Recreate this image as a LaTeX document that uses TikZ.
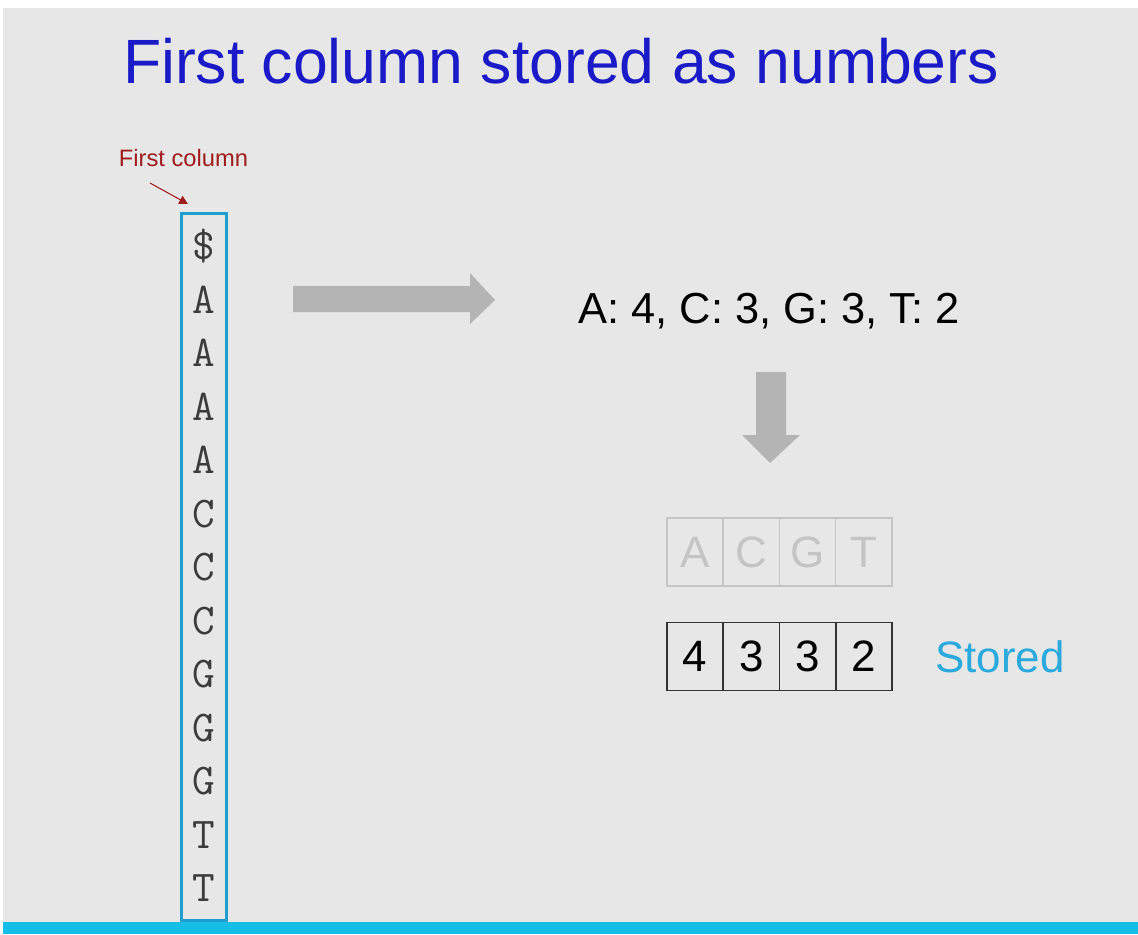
\documentclass[tikz,border=0pt]{standalone}
\usepackage{fontspec}
\setmainfont{Liberation Sans}
\usetikzlibrary{arrows.meta}

\definecolor{slidebg}{HTML}{E7E7E7}
\definecolor{titleblue}{HTML}{1A1AC8}
\definecolor{labelred}{HTML}{A01C1C}
\definecolor{boxcyan}{HTML}{1E9FCF}
\definecolor{barcyan}{HTML}{14BEE6}
\definecolor{storedcyan}{HTML}{29A9DC}
\definecolor{blockgray}{HTML}{B4B4B4}
\definecolor{faintgray}{HTML}{C4C4C4}
\definecolor{lettergray}{HTML}{3C3C3C}

\newcommand{\fsize}[1]{\fontsize{#1}{1.2\dimexpr#1pt\relax}\selectfont}

\begin{document}
\begin{tikzpicture}[x=0.02cm, y=-0.02cm,
    letter/.style={font=\ttfamily\fsize{25}, text=lettergray, anchor=base, inner sep=0pt},
    colbox/.style={draw=boxcyan, line width=1.7pt, minimum width=0.9cm, minimum height=14.15cm, inner sep=0pt},
    keycell/.style={draw=faintgray, line width=0.85pt, minimum width=1.125cm, minimum height=1.36cm, inner sep=0pt,
      text=faintgray, font=\fsize{25}},
    countcell/.style={draw=black!80, line width=1.1pt, minimum width=1.125cm, minimum height=1.36cm, inner sep=0pt,
      font=\fsize{25}},
    blockarrow/.style={fill=blockgray, draw=none}]

  \useasboundingbox (0,0) rectangle (1138,934);
  \fill[white] (0,0) rectangle (1138,934);
  \fill[slidebg] (3,8) rectangle (1138,922);

  \node[anchor=base, text=titleblue, font=\fsize{35.6}] (title) at (561,83) {First column stored as numbers};

  % the first column
  \node[anchor=base, text=labelred, font=\fsize{13.5}] (first) at (183.5,166) {First column};
  \foreach \i/\ch in {0/\$, 1/A, 2/A, 3/A, 4/A, 5/C, 6/C, 7/C, 8/G, 9/G, 10/G, 11/T, 12/T} {
    \node[letter] (c-\i) at (204, 259.5+53.5*\i) {\ch};
  }
  \node[colbox] (col) at (204,567.25) {};

  \coordinate (first-from) at (150,183);
  \coordinate (first-to) at (188,204);
  \draw[labelred, line width=0.6pt, -{Triangle[length=5pt,width=5pt]}] (first-from) -- (first-to);

  % block arrows
  \fill[blockarrow] (293,286) -- (470,286) -- (470,273) -- (495,300) -- (470,324) -- (470,312) -- (293,312) -- cycle;
  \fill[blockarrow] (756,372) -- (786,372) -- (786,435) -- (800,435) -- (770,463) -- (742,435) -- (756,435) -- cycle;

  \node[anchor=base, font=\fsize{24.7}] (counts) at (769,323) {A: 4, C: 3, G: 3, T: 2};

  % key row and stored counts
  \foreach \i/\k/\n in {0/A/4, 1/C/3, 2/G/3, 3/T/2} {
    \node[keycell] (k-\i) at (695.1+56.25*\i, 552) {\k};
    \node[countcell] (n-\i) at (695.1+56.25*\i, 656.5) {\n};
  }

  \node[anchor=base, text=storedcyan, font=\fsize{25}] (stored) at (1000,672) {Stored};

  \fill[barcyan] (3,922) rectangle (1138,934);

\end{tikzpicture}
\end{document}
